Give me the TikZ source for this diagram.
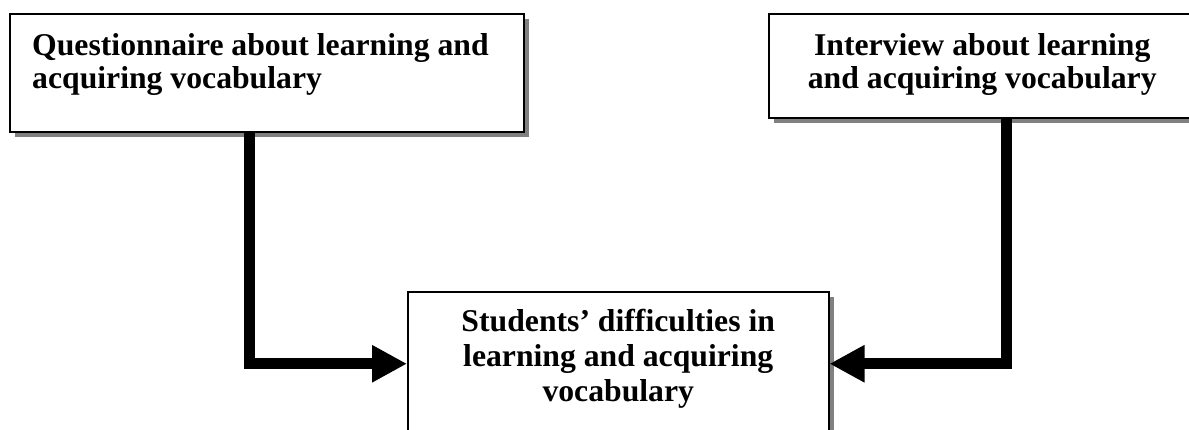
\documentclass[tikz,border=0pt]{standalone}
\usepackage{fontspec}
\setmainfont{Liberation Serif}
\usetikzlibrary{arrows.meta,shadows}
\begin{document}
\begin{tikzpicture}[x=1pt,y=-1pt,
  box/.style={draw=black, line width=1.5pt, fill=white, rectangle, inner sep=0pt,
    drop shadow={shadow xshift=5pt, shadow yshift=-5pt, fill=black!50, opacity=1}},
  txt/.style={inner sep=0pt, font=\fontsize{31.7}{33}\selectfont\bfseries},
  conn/.style={line width=11pt, line join=miter, -{Triangle[length=35pt,width=35pt]}}]
\useasboundingbox (0,0) rectangle (1189,429);
\clip (0,0) rectangle (1189,429);
\node[box, anchor=north west, minimum width=514pt, minimum height=118pt] (b1) at (9,13) {};
\node[box, anchor=north west, minimum width=427pt, minimum height=104pt] (b2) at (768,13) {};
\node[box, anchor=north west, minimum width=421pt, minimum height=144pt] (b3) at (407,291) {};
\node[txt, anchor=north west, align=left] (t1) at ([shift={(23,20)}]b1.north west)
  {Questionnaire about learning and\\acquiring vocabulary};
\node[txt, anchor=north, align=center] (t2) at ([shift={(0,20)}]b2.north)
  {Interview about learning\\and acquiring vocabulary};
\node[txt, anchor=north, align=center, font=\fontsize{31.7}{35}\selectfont\bfseries] (t3) at ([shift={(0,18)}]b3.north)
  {Students’ difficulties in\\learning and acquiring\\vocabulary};
\draw[conn] ([xshift=240pt]b1.south west) |- (b3.west);
\draw[conn] ([xshift=238pt]b2.south west) |- (b3.east);
\end{tikzpicture}
\end{document}
